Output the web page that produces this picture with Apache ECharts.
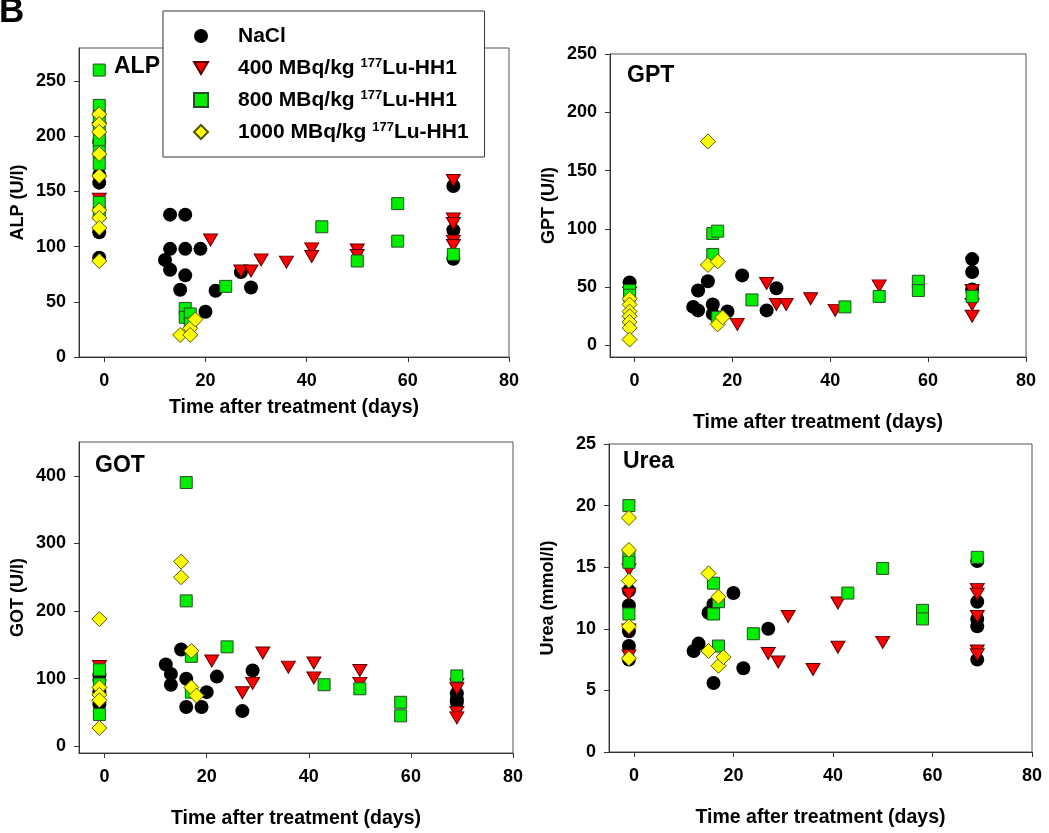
<!DOCTYPE html>
<html><head><meta charset="utf-8">
<script src="https://cdn.jsdelivr.net/npm/echarts@6/dist/echarts.min.js"></script>
<style>html,body{margin:0;padding:0;background:#fff}#c{width:1049px;height:833px}</style>
</head><body><div id="c"></div>
<script>
// ---- tick labels ----
const xTicks = [0, 20, 40, 60, 80];
const alpTicks = [0, 50, 100, 150, 200, 250];
const gptTicks = [0, 50, 100, 150, 200, 250];
const gotTicks = [0, 100, 200, 300, 400];
const ureaTicks = [0, 5, 10, 15, 20, 25];

// ---- group names ----
const groups = ['NaCl', '400 MBq/kg 177Lu-HH1', '800 MBq/kg 177Lu-HH1', '1000 MBq/kg 177Lu-HH1'];

// ---- ALP (U/l) : [day, value] ----
const alpNaCl = [[-1,90],[-1,113],[-1,158],[-1,165],[-1,195],[12,88],[13,129],[13,98],[13,79],[15,61],[16,129],[16,98],[16,74],[19,98],[20,41],[22,60],[27,77],[29,63],[69,155],[69,115],[69,89]];
const alp400 = [[-1,143],[-1,207],[21,106],[27,78],[29,78],[31,88],[36,86],[41,98],[41,91],[50,97],[50,92],[69,160],[69,125],[69,121],[69,105],[69,101]];
const alp800 = [[-1,260],[-1,228],[-1,218],[-1,207],[-1,196],[-1,186],[-1,175],[-1,140],[-1,130],[16,44],[16,36],[17,39],[17,30],[24,64],[43,118],[50,87],[58,139],[58,105],[69,93]];
const alp1000 = [[-1,220],[-1,211],[-1,204],[-1,184],[-1,164],[-1,133],[-1,126],[-1,117],[-1,87],[15,20],[17,26],[17,20],[18,34]];

// ---- GPT (U/l) ----
const gptNaCl = [[-1,54],[12,33],[13,30],[13,47],[15,55],[16,35],[16,27],[19,29],[22,60],[27,30],[29,49],[69,74],[69,63],[69,48]];
const gpt400 = [[-1,45],[21,18],[27,53],[29,35],[31,35],[36,40],[41,30],[50,51],[69,47],[69,35],[69,25]];
const gpt800 = [[-1,47],[-1,43],[16,96],[17,98],[16,78],[17,24],[24,39],[43,33],[50,42],[58,55],[58,47],[69,42]];
const gpt1000 = [[-1,40],[-1,35],[-1,29],[-1,25],[-1,20],[-1,15],[-1,5],[15,175],[15,69],[17,72],[17,18],[18,24]];

// ---- GOT (U/l) ----
const gotNaCl = [[-1,105],[-1,98],[-1,80],[-1,62],[12,121],[13,107],[13,91],[15,143],[16,100],[16,58],[19,58],[20,80],[22,103],[27,52],[29,112],[69,78],[69,70],[69,65]];
const got400 = [[-1,118],[21,126],[27,79],[29,93],[31,138],[36,117],[41,123],[41,101],[50,112],[50,93],[69,91],[69,85],[69,50],[69,42]];
const got800 = [[-1,113],[-1,92],[-1,47],[16,390],[16,215],[17,133],[17,80],[24,147],[43,91],[50,85],[58,65],[58,45],[69,104]];
const got1000 = [[-1,188],[-1,87],[-1,76],[-1,68],[-1,27],[15,273],[15,250],[17,141],[17,87],[18,75]];

// ---- Urea (mmol/l) ----
const ureaNaCl = [[-1,13.1],[-1,11.9],[-1,9.8],[-1,8.6],[-1,7.5],[12,8.2],[13,8.8],[15,11.3],[16,12],[16,5.6],[20,12.9],[22,6.8],[27,10],[69,15.5],[69,12.2],[69,10.8],[69,10.2],[69,7.5]];
const urea400 = [[-1,14.8],[-1,12.8],[-1,9.9],[-1,7.8],[27,8],[29,7.3],[31,11],[36,6.7],[41,12.1],[41,8.5],[50,8.9],[69,13.2],[69,12.8],[69,11],[69,8.2],[69,7.9]];
const urea800 = [[-1,20],[-1,15.9],[-1,15.4],[-1,11.2],[16,13.7],[16,11.2],[17,12.2],[17,8.6],[24,9.6],[43,12.9],[50,14.9],[58,11.5],[58,10.8],[69,15.8]];
const urea1000 = [[-1,19],[-1,16.4],[-1,13.9],[-1,10.2],[-1,7.6],[15,14.5],[15,8.2],[17,12.6],[17,7],[18,7.7]];

const FONT = "'Liberation Sans', Arial, Helvetica, sans-serif";
const styles = [
  {symbol:'circle', size:14, color:'#000000', border:'#000000', rotate:0, icon:'circle'},
  {symbol:'triangle', size:[14,12], color:'#ff0000', border:'#5a0000', rotate:180, icon:'path://M0,0L14,0L7,12Z'},
  {symbol:'rect', size:12, color:'#00ee00', border:'#2a4a2a', rotate:0, icon:'rect'},
  {symbol:'diamond', size:15, color:'#ffff00', border:'#555500', rotate:0, icon:'diamond'}
];

const panels = [
  {label:'ALP', yName:'ALP (U/l)', ymin:0, ymax:280, ticks:alpTicks, grid:{left:79, top:48, width:430, height:309}, xGap:41, lab:[114,68], data:[alpNaCl, alp400, alp800, alp1000]},
  {label:'GPT', yName:'GPT (U/l)', ymin:-10, ymax:250, ticks:gptTicks, grid:{left:610, top:54, width:416, height:303}, xGap:56, lab:[627,77], data:[gptNaCl, gpt400, gpt800, gpt1000]},
  {label:'GOT', yName:'GOT (U/l)', ymin:-10, ymax:450, ticks:gotTicks, grid:{left:79, top:442, width:434, height:311}, xGap:56, lab:[95,467], data:[gotNaCl, got400, got800, got1000]},
  {label:'Urea', yName:'Urea (mmol/l)', ymin:0, ymax:25, ticks:ureaTicks, grid:{left:609, top:444, width:423, height:308}, xGap:56, lab:[623,463], data:[ureaNaCl, urea400, urea800, urea1000]}
];

const axisColor = '#333';
const grids = [], xAxes = [], yAxes = [], series = [], graphics = [];
panels.forEach((p, i) => {
  grids.push(Object.assign({show:true, borderColor:'#555', borderWidth:1, backgroundColor:'transparent'}, p.grid));
  xAxes.push({
    type:'value', gridIndex:i, min:-5, max:80,
    name:'Time after treatment (days)', nameLocation:'middle', nameGap:p.xGap,
    nameTextStyle:{fontFamily:FONT, fontWeight:'bold', fontSize:19.5, color:'#000'},
    axisLine:{show:true, onZero:false, lineStyle:{color:axisColor, width:1}},
    axisTick:{show:true, length:5, customValues:xTicks, lineStyle:{color:axisColor}},
    axisLabel:{customValues:xTicks, margin:15, fontFamily:FONT, fontWeight:'bold', fontSize:18, color:'#000'},
    splitLine:{show:false}
  });
  yAxes.push({
    type:'value', gridIndex:i, min:p.ymin, max:p.ymax,
    name:p.yName, nameLocation:'middle', nameGap:52, nameRotate:90,
    nameTextStyle:{fontFamily:FONT, fontWeight:'bold', fontSize:18, color:'#000'},
    axisLine:{show:true, onZero:false, lineStyle:{color:axisColor, width:1}},
    axisTick:{show:true, length:5, customValues:p.ticks, lineStyle:{color:axisColor}},
    axisLabel:{customValues:p.ticks, margin:13, fontFamily:FONT, fontWeight:'bold', fontSize:18, color:'#000'},
    splitLine:{show:false}
  });
  p.data.forEach((d, g) => {
    const s = styles[g];
    series.push({
      type:'scatter', name:groups[g], xAxisIndex:i, yAxisIndex:i, data:d,
      symbol:s.symbol, symbolSize:s.size, symbolRotate:s.rotate,
      itemStyle:{color:s.color, borderColor:s.border, borderWidth: g === 0 ? 0 : 1, opacity:1},
      emphasis:{disabled:true}, z: 2 + g
    });
  });
  graphics.push({type:'text', left:p.lab[0], top:p.lab[1] - 13, z:50,
    style:{text:p.label, font:'bold 23px ' + FONT, fill:'#000'}});
});

graphics.push({type:'text', left:-1, top:-5, z:50, style:{text:'B', font:'bold 35px ' + FONT, fill:'#000'}});

const chart = echarts.init(document.getElementById('c'), null, {renderer:'canvas'});
chart.setOption({
  animation:false,
  backgroundColor:'#fff',
  grid:grids, xAxis:xAxes, yAxis:yAxes, series:series,
  legend:{
    data:groups.map((n, g) => ({name:n, icon:styles[g].icon})),
    orient:'vertical', left:163, top:11,
    padding:[14,16,14,30], itemGap:10, itemWidth:14, itemHeight:14,
    backgroundColor:'#fff', borderColor:'#333', borderWidth:1, z:20,
    formatter: n => '{sp|\u00a0}' + n.replace('177', '{sup|177}'),
    textStyle:{fontFamily:FONT, fontWeight:'bold', fontSize:21, color:'#000', lineHeight:22,
      rich:{
        sp:{width:25, fontSize:21, lineHeight:22},
        sup:{fontFamily:FONT, fontWeight:'bold', fontSize:13, color:'#000', verticalAlign:'top', lineHeight:14}
      }}
  },
  graphic:graphics
});
</script></body></html>
